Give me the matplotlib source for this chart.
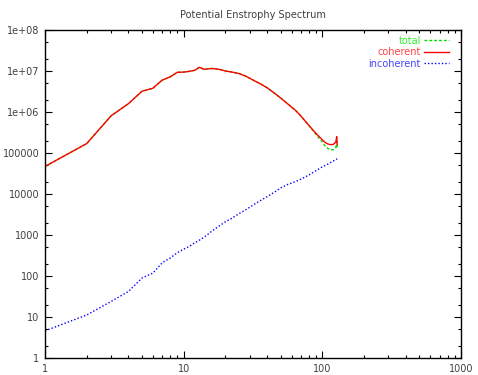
import matplotlib
matplotlib.use("Agg")
import matplotlib.pyplot as plt
from matplotlib.ticker import FixedLocator, LogLocator, NullFormatter

# wavenumbers and spectra
k = [1, 2, 3, 4, 5, 6, 7, 8, 9, 10, 11, 12, 13, 14, 15, 16, 18, 20, 22, 25,
     28, 32, 36, 40, 45, 50, 56, 64, 70, 80, 90, 100, 105, 110, 115, 120,
     125, 127, 128]
coherent = [4.7e4, 1.7e5, 8.1e5, 1.6e6, 3.2e6, 3.8e6, 6.0e6, 7.2e6, 9.3e6,
            9.4e6, 9.8e6, 1.04e7, 1.23e7, 1.1e7, 1.13e7, 1.15e7, 1.1e7, 1.0e7,
            9.5e6, 8.7e6, 7.5e6, 5.9e6, 4.8e6, 3.9e6, 2.9e6, 2.2e6, 1.6e6,
            1.1e6, 8.0e5, 4.7e5, 3.0e5, 2.1e5, 1.8e5, 1.65e5, 1.6e5, 1.62e5,
            1.85e5, 2.5e5, 1.6e5]
total = [4.7e4, 1.7e5, 8.1e5, 1.6e6, 3.2e6, 3.8e6, 6.0e6, 7.2e6, 9.3e6,
         9.4e6, 9.8e6, 1.04e7, 1.23e7, 1.1e7, 1.13e7, 1.15e7, 1.1e7, 1.0e7,
         9.5e6, 8.7e6, 7.5e6, 5.9e6, 4.8e6, 3.9e6, 2.9e6, 2.2e6, 1.6e6,
         1.1e6, 8.0e5, 4.7e5, 2.85e5, 1.85e5, 1.45e5, 1.28e5, 1.2e5, 1.2e5,
         1.35e5, 1.9e5, 1.25e5]
incoherent = [4.6, 11.2, 24, 42, 89, 118, 210, 275, 370, 450, 530, 640, 750,
              880, 1050, 1250, 1650, 2100, 2500, 3300, 4100, 5500, 7000, 8600,
              1.1e4, 1.4e4, 1.7e4, 2.0e4, 2.3e4, 2.9e4, 3.7e4, 4.6e4, 5.0e4,
              5.4e4, 5.9e4, 6.4e4, 6.9e4, 7.1e4, 7.2e4]

yticks = [1, 10, 100, 1000, 1e4, 1e5, 1e6, 1e7, 1e8]
ylabels = ["1", "10", "100", "1000", "10000", "100000", "1e+06", "1e+07", "1e+08"]
xticks = [1, 10, 100, 1000]
xlabels = ["1", "10", "100", "1000"]

txt = "#404040"
plt.rcParams["font.family"] = ["DejaVu Sans"]
plt.rcParams["font.size"] = 7

fig = plt.figure(figsize=(4.78, 3.75), dpi=100)
ax = fig.add_axes([45 / 478, 1 - 358 / 375, 416 / 478, 328 / 375])

ax.plot(k, total, color="#00dd00", lw=1, ls=(0, (2, 1.5)), label="total")
ax.plot(k, coherent, color="#ff0000", lw=1, label="coherent")
ax.plot(k, incoherent, color="#0000ff", lw=1, ls=(0, (1, 1.5)), label="incoherent")

ax.set_xscale("log")
ax.set_yscale("log")
ax.set_xlim(1, 1000)
ax.set_ylim(1, 1e8)

ax.xaxis.set_major_locator(FixedLocator(xticks))
ax.set_xticklabels(xlabels, color=txt)
ax.xaxis.set_minor_locator(LogLocator(base=10, subs=range(2, 10)))
ax.xaxis.set_minor_formatter(NullFormatter())
ax.yaxis.set_major_locator(FixedLocator(yticks))
ax.set_yticklabels(ylabels, color=txt)
ax.yaxis.set_minor_locator(LogLocator(base=10, subs=[2, 5], numticks=20))
ax.yaxis.set_minor_formatter(NullFormatter())

ax.tick_params(which="both", direction="in", top=True, right=True, width=0.8)
ax.tick_params(which="major", length=5, pad=4)
ax.tick_params(which="minor", length=2.5)
for s in ax.spines.values():
    s.set_linewidth(1)

ax.set_title("Potential Enstrophy Spectrum", color=txt, fontsize=7, pad=9)

leg = ax.legend(loc="upper right", bbox_to_anchor=(1 - 6 / 416, 1),
                frameon=False, markerfirst=False,
                handlelength=2.6, handletextpad=0.3, labelspacing=0.15,
                borderaxespad=0.2, fontsize=7,
                labelcolor=["#33ee33", "#ff4444", "#4444ff"])

fig.savefig("out.png", dpi=100)
